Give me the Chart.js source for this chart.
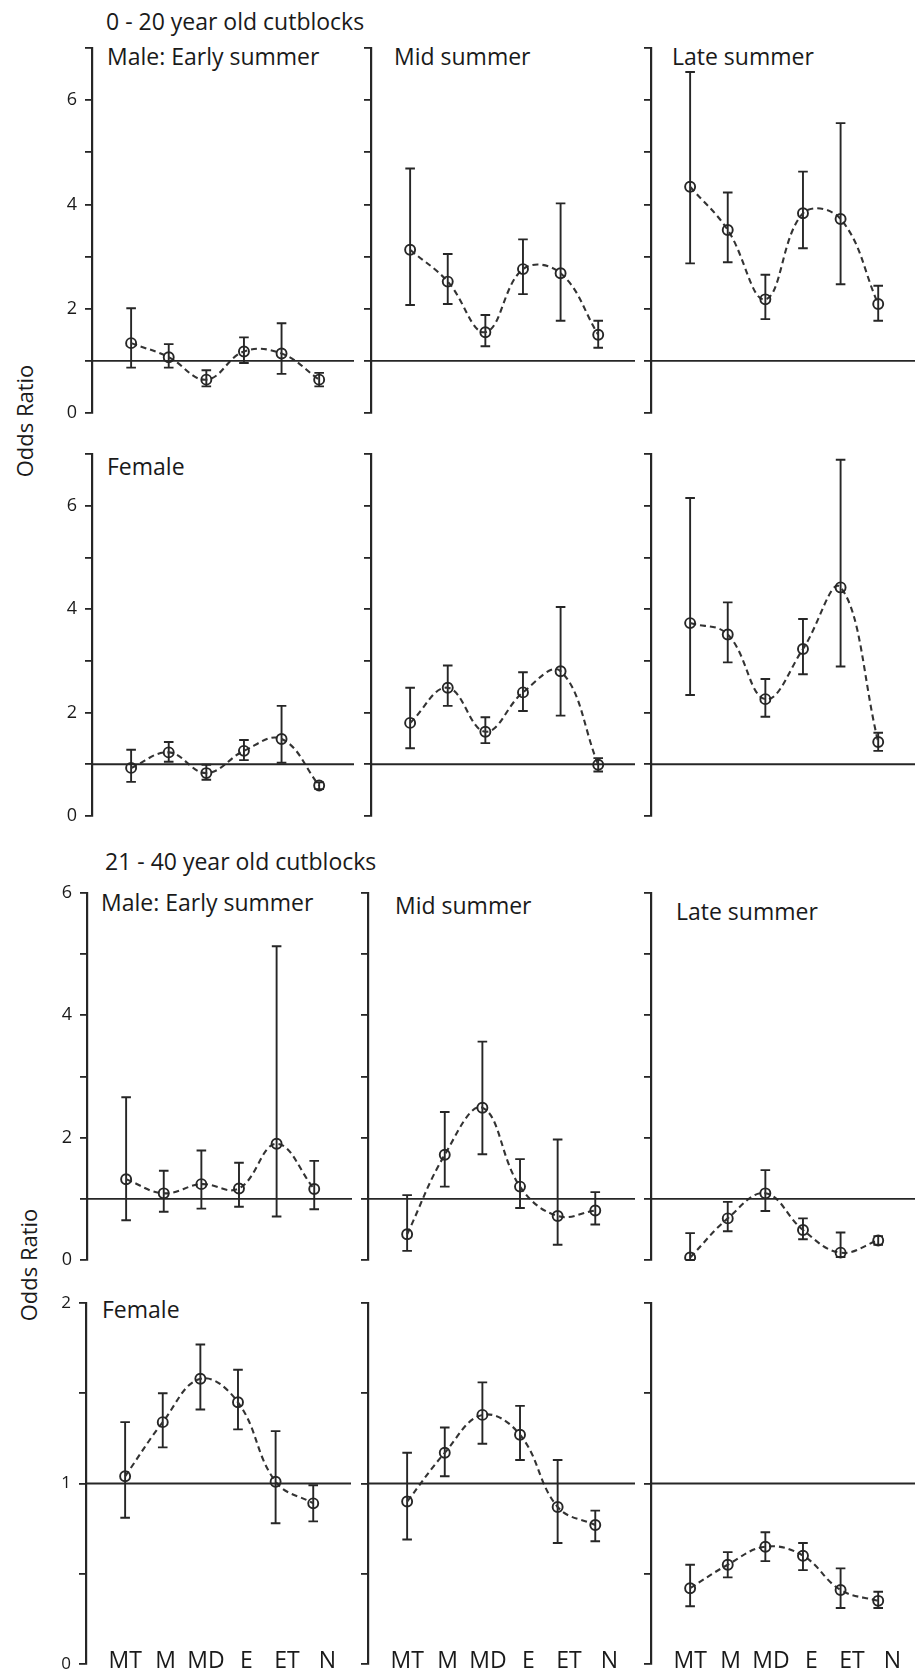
<!DOCTYPE html>
<html>
<head>
<meta charset="utf-8">
<script src="https://cdn.jsdelivr.net/npm/chart.js@4.4.1/dist/chart.umd.min.js"></script>
<style>
html,body{margin:0;padding:0;background:#fff;width:922px;height:1672px;overflow:hidden;position:relative;font-family:'Open Sans',sans-serif;color:#1a1a1a}
canvas{position:absolute}
.t{position:absolute;font-size:23px;line-height:23px;white-space:nowrap}
.ylab{position:absolute;font-size:22px;line-height:22px;white-space:nowrap;transform:translate(-50%,-50%) rotate(-90deg)}
</style>
</head>
<body>
<div class="t" style="left:106px;top:10px">0 - 20 year old cutblocks</div>
<div class="t" style="left:107px;top:45px">Male: Early summer</div>
<div class="t" style="left:394px;top:45px">Mid summer</div>
<div class="t" style="left:672px;top:45px">Late summer</div>
<div class="t" style="left:107px;top:455px">Female</div>
<div class="t" style="left:105px;top:850px">21 - 40 year old cutblocks</div>
<div class="t" style="left:101px;top:891px">Male: Early summer</div>
<div class="t" style="left:395px;top:894px">Mid summer</div>
<div class="t" style="left:676px;top:900px">Late summer</div>
<div class="t" style="left:102px;top:1298px">Female</div>
<div class="ylab" style="left:24px;top:421px">Odds Ratio</div>
<div class="ylab" style="left:28px;top:1265px">Odds Ratio</div>
<script>
const cats = ['MT','M','MD','E','ET','N'];

// 0 - 20 year old cutblocks, male
const young_m_early    = [1.34,1.07,0.64,1.18,1.14,0.64];
const young_m_early_lo = [0.87,0.87,0.51,0.96,0.75,0.51];
const young_m_early_hi = [2.01,1.32,0.82,1.45,1.72,0.77];
const young_m_mid      = [3.13,2.52,1.55,2.76,2.68,1.50];
const young_m_mid_lo   = [2.07,2.09,1.28,2.28,1.77,1.25];
const young_m_mid_hi   = [4.69,3.05,1.88,3.33,4.02,1.77];
const young_m_late     = [4.34,3.51,2.18,3.83,3.72,2.09];
const young_m_late_lo  = [2.87,2.89,1.80,3.16,2.47,1.77];
const young_m_late_hi  = [6.54,4.23,2.65,4.63,5.56,2.44];
// 0 - 20 year old cutblocks, female
const young_f_early    = [0.93,1.23,0.83,1.26,1.49,0.59];
const young_f_early_lo = [0.66,1.05,0.70,1.08,1.03,0.52];
const young_f_early_hi = [1.28,1.43,0.99,1.47,2.13,0.65];
const young_f_mid      = [1.80,2.48,1.63,2.39,2.80,0.99];
const young_f_mid_lo   = [1.31,2.13,1.41,2.03,1.94,0.86];
const young_f_mid_hi   = [2.48,2.91,1.91,2.78,4.04,1.12];
const young_f_late     = [3.73,3.51,2.26,3.23,4.42,1.43];
const young_f_late_lo  = [2.34,2.97,1.92,2.74,2.89,1.26];
const young_f_late_hi  = [6.15,4.13,2.65,3.81,6.89,1.61];
// 21 - 40 year old cutblocks, male
const old_m_early      = [1.32,1.09,1.24,1.17,1.90,1.16];
const old_m_early_lo   = [0.65,0.79,0.84,0.87,0.71,0.83];
const old_m_early_hi   = [2.66,1.46,1.79,1.59,5.13,1.62];
const old_m_mid        = [0.42,1.72,2.49,1.20,0.72,0.81];
const old_m_mid_lo     = [0.15,1.20,1.73,0.85,0.25,0.58];
const old_m_mid_hi     = [1.06,2.42,3.57,1.65,1.97,1.11];
const old_m_late       = [0.04,0.68,1.09,0.49,0.12,0.32];
const old_m_late_lo    = [0.00,0.47,0.80,0.34,0.05,0.25];
const old_m_late_hi    = [0.44,0.95,1.47,0.68,0.45,0.39];
// 21 - 40 year old cutblocks, female
const old_f_early      = [1.04,1.34,1.58,1.45,1.01,0.89];
const old_f_early_lo   = [0.81,1.20,1.41,1.30,0.78,0.79];
const old_f_early_hi   = [1.34,1.50,1.77,1.63,1.29,0.99];
const old_f_mid        = [0.90,1.17,1.38,1.27,0.87,0.77];
const old_f_mid_lo     = [0.69,1.04,1.22,1.13,0.67,0.68];
const old_f_mid_hi     = [1.17,1.31,1.56,1.43,1.13,0.85];
const old_f_late       = [0.42,0.55,0.65,0.60,0.41,0.35];
const old_f_late_lo    = [0.32,0.48,0.57,0.52,0.31,0.31];
const old_f_late_hi    = [0.55,0.62,0.73,0.67,0.53,0.40];

// labelled y ticks
const ticks_young = [0,2,4,6];
const ticks_old_m = [0,2,4,6];
const ticks_old_f = [0,1,2];

const INK = '#262626';
const W = 60, PT = 26, PB = 26, UNIT = 38.6, X0 = -1.04;

const rows = [
  {top:48,  bottom:413,  max:7, step:1,   labels:ticks_young, fs:18, axis:[92,371,651], right:[361,642,922],
   panels:[[young_m_early,young_m_early_lo,young_m_early_hi],[young_m_mid,young_m_mid_lo,young_m_mid_hi],[young_m_late,young_m_late_lo,young_m_late_hi]]},
  {top:454, bottom:816,  max:7, step:1,   labels:ticks_young, fs:18, axis:[92,371,651], right:[361,642,922],
   panels:[[young_f_early,young_f_early_lo,young_f_early_hi],[young_f_mid,young_f_mid_lo,young_f_mid_hi],[young_f_late,young_f_late_lo,young_f_late_hi]]},
  {top:893, bottom:1260, max:6, step:1,   labels:ticks_old_m, fs:18, axis:[87,368,651], right:[359,642,922],
   panels:[[old_m_early,old_m_early_lo,old_m_early_hi],[old_m_mid,old_m_mid_lo,old_m_mid_hi],[old_m_late,old_m_late_lo,old_m_late_hi]]},
  {top:1303,bottom:1664, max:2, step:0.5, labels:ticks_old_f, fs:17, axis:[86,368,651], right:[358,642,922], xlab:true,
   panels:[[old_f_early,old_f_early_lo,old_f_early_hi],[old_f_mid,old_f_mid_lo,old_f_mid_hi],[old_f_late,old_f_late_lo,old_f_late_hi]]}
];

const errorBars = {
  id:'errorBars',
  beforeDatasetsDraw(chart, args, opts){
    if(!opts.lo) return;
    const {ctx, scales:{x,y}} = chart;
    ctx.save();
    ctx.strokeStyle = INK;
    ctx.lineWidth = 1.9;
    opts.lo.forEach((lo,i)=>{
      const px = x.getPixelForValue(i);
      const a = y.getPixelForValue(lo), b = y.getPixelForValue(opts.hi[i]);
      ctx.beginPath();
      ctx.moveTo(px,a); ctx.lineTo(px,b);
      ctx.moveTo(px-4.8,a); ctx.lineTo(px+4.8,a);
      ctx.moveTo(px-4.8,b); ctx.lineTo(px+4.8,b);
      ctx.stroke();
    });
    ctx.restore();
  }
};

// category names along the bottom of the last row
const catLabels = {
  id:'catLabels',
  afterDraw(chart, args, opts){
    if(!opts.show) return;
    const {ctx, scales:{x}, chartArea} = chart;
    ctx.save();
    ctx.font = '23px "Open Sans"';
    ctx.fillStyle = '#1a1a1a';
    ctx.textAlign = 'center';
    ctx.textBaseline = 'alphabetic';
    cats.forEach((c,i)=>ctx.fillText(c, x.getPixelForValue(i*1.075), chartArea.bottom+4));
    ctx.restore();
  }
};

rows.forEach(row=>{
  row.panels.forEach(([vals,lo,hi],col)=>{
    const ax = row.axis[col], rx = row.right[col];
    const cv = document.createElement('canvas');
    const w = W + (rx-ax), h = (row.bottom-row.top) + PT + PB;
    cv.width = w; cv.height = h;
    cv.style.left = (ax-W)+'px';
    cv.style.top = (row.top-PT)+'px';
    document.body.appendChild(cv);
    const xmin = X0, xmax = X0 + (rx-ax)/UNIT;
    new Chart(cv, {
      type:'line',
      data:{datasets:[
        {data:[{x:xmin,y:1},{x:xmax,y:1}], borderColor:INK, borderWidth:1.9, pointRadius:0, tension:0},
        {data:vals.map((v,i)=>({x:i,y:v})), borderColor:'#333', borderWidth:2.1, borderDash:[6,4],
         tension:0.4, pointRadius:5, pointBorderColor:INK, pointBackgroundColor:'rgba(0,0,0,0)', pointBorderWidth:1.9}
      ]},
      options:{
        responsive:false,
        animation:false,
        events:[],
        layout:{padding:{left:0,right:0,top:PT,bottom:PB}},
        plugins:{
          legend:{display:false},
          tooltip:{enabled:false},
          errorBars:{lo,hi},
          catLabels:{show:!!row.xlab}
        },
        scales:{
          x:{type:'linear', display:false, min:xmin, max:xmax},
          y:{
            min:0, max:row.max,
            afterFit:s=>{ s.width = W; },
            ticks:{
              stepSize:row.step, autoSkip:false, padding:8, color:'#1a1a1a',
              font:{family:'Open Sans', size:row.fs},
              callback:v=> (col===0 && row.labels.includes(v)) ? String(v) : ''
            },
            grid:{drawOnChartArea:false, drawTicks:true, tickLength:7, color:INK, lineWidth:1.8},
            border:{display:true, color:INK, width:2.2}
          }
        }
      },
      plugins:[errorBars, catLabels]
    });
  });
});
</script>
</body>
</html>
